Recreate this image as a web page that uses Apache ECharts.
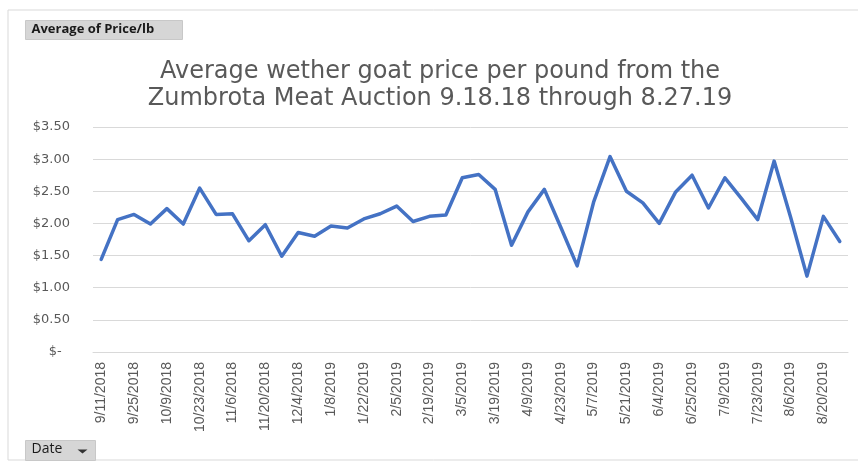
<!DOCTYPE html>
<html>
<head>
<meta charset="utf-8">
<script src="https://cdn.jsdelivr.net/npm/echarts@6/dist/echarts.min.js"></script>
<style>
  html, body { margin: 0; padding: 0; background: #fff; }
  #chart { width: 858px; height: 463px; }
</style>
</head>
<body>
<div id="chart"></div>
<script>
// auction dates (every other one is labelled on the axis)
var dates = [
  '9/11/2018', '9/18/2018', '9/25/2018', '10/2/2018', '10/9/2018', '10/16/2018',
  '10/23/2018', '10/30/2018', '11/6/2018', '11/13/2018', '11/20/2018', '11/27/2018',
  '12/4/2018', '12/18/2018', '1/8/2019', '1/15/2019', '1/22/2019', '1/29/2019',
  '2/5/2019', '2/12/2019', '2/19/2019', '2/26/2019', '3/5/2019', '3/12/2019',
  '3/19/2019', '3/26/2019', '4/9/2019', '4/16/2019', '4/23/2019', '4/30/2019',
  '5/7/2019', '5/14/2019', '5/21/2019', '5/28/2019', '6/4/2019', '6/18/2019',
  '6/25/2019', '7/2/2019', '7/9/2019', '7/16/2019', '7/23/2019', '7/30/2019',
  '8/6/2019', '8/13/2019', '8/20/2019', '8/27/2019'
];
// average price per lb
var prices = [
  1.44, 2.06, 2.14, 1.99, 2.23, 1.99,
  2.55, 2.14, 2.15, 1.73, 1.98, 1.49,
  1.86, 1.80, 1.96, 1.93, 2.07, 2.15,
  2.27, 2.03, 2.11, 2.13, 2.71, 2.76,
  2.53, 1.66, 2.18, 2.53, 1.94, 1.34,
  2.33, 3.04, 2.50, 2.32, 2.00, 2.49,
  2.75, 2.24, 2.71, 2.39, 2.06, 2.97,
  2.10, 1.18, 2.11, 1.72
];
var titleLines = [
  'Average wether goat price per pound from the',
  'Zumbrota Meat Auction 9.18.18 through 8.27.19'
];

var txt = '#595959';
var font = '"DejaVu Sans", "Open Sans", sans-serif';
var narrow = '"Liberation Sans Narrow", "Liberation Sans", sans-serif';

var chart = echarts.init(document.getElementById('chart'));
chart.setOption({
  animation: false,
  backgroundColor: '#fff',
  title: {
    text: titleLines.join('\n'),
    left: 440,
    top: 58,
    padding: 0,
    textAlign: 'center',
    textStyle: {
      color: txt,
      fontFamily: font,
      fontSize: 24,
      fontWeight: 'normal',
      lineHeight: 27
    }
  },
  grid: {
    left: 93,
    right: 10,
    top: 127,
    bottom: 111
  },
  xAxis: {
    type: 'category',
    boundaryGap: true,
    data: dates,
    axisLine: { lineStyle: { color: '#d9d9d9', width: 1 } },
    axisTick: { show: false },
    axisLabel: {
      interval: 1,
      rotate: 90,
      color: txt,
      fontFamily: narrow,
      fontSize: 14,
      margin: 10
    }
  },
  yAxis: {
    type: 'value',
    min: 0,
    max: 3.5,
    interval: 0.5,
    axisLine: { show: false },
    axisTick: { show: false },
    splitLine: { lineStyle: { color: '#d9d9d9', width: 1 } },
    axisLabel: {
      color: txt,
      fontFamily: font,
      fontSize: 13,
      margin: 23,
      formatter: function (v) {
        return v === 0 ? '$-  ' : '$' + v.toFixed(2);
      }
    }
  },
  series: [{
    name: 'Average of Price/lb',
    type: 'line',
    data: prices,
    showSymbol: false,
    symbol: 'none',
    lineStyle: { color: '#4472c4', width: 3.5, join: 'round', cap: 'round' }
  }],
  graphic: [
    {
      type: 'rect',
      shape: { x: 8, y: 10, width: 860, height: 450 },
      style: { fill: 'none', stroke: '#d9d9d9', lineWidth: 1 },
      silent: true
    },
    {
      type: 'group',
      left: 25,
      top: 20,
      children: [
        { type: 'rect', shape: { x: 0, y: 0, width: 157, height: 19 },
          style: { fill: '#d6d6d6', stroke: '#c8c8c8' } },
        { type: 'text', x: 6, y: 2,
          style: { text: 'Average of Price/lb', fill: '#1a1a1a',
                   font: 'bold 13px "Open Sans", sans-serif' } }
      ]
    },
    {
      type: 'group',
      left: 25,
      top: 440,
      children: [
        { type: 'rect', shape: { x: 0, y: 0, width: 70, height: 20 },
          style: { fill: '#d6d6d6', stroke: '#c8c8c8' } },
        { type: 'text', x: 6, y: 2,
          style: { text: 'Date', fill: '#1a1a1a',
                   font: '14px "Open Sans", sans-serif' } },
        { type: 'polygon', shape: { points: [[52, 9], [62, 9], [57, 13]] },
          style: { fill: '#333' } }
      ]
    }
  ]
});
</script>
</body>
</html>
